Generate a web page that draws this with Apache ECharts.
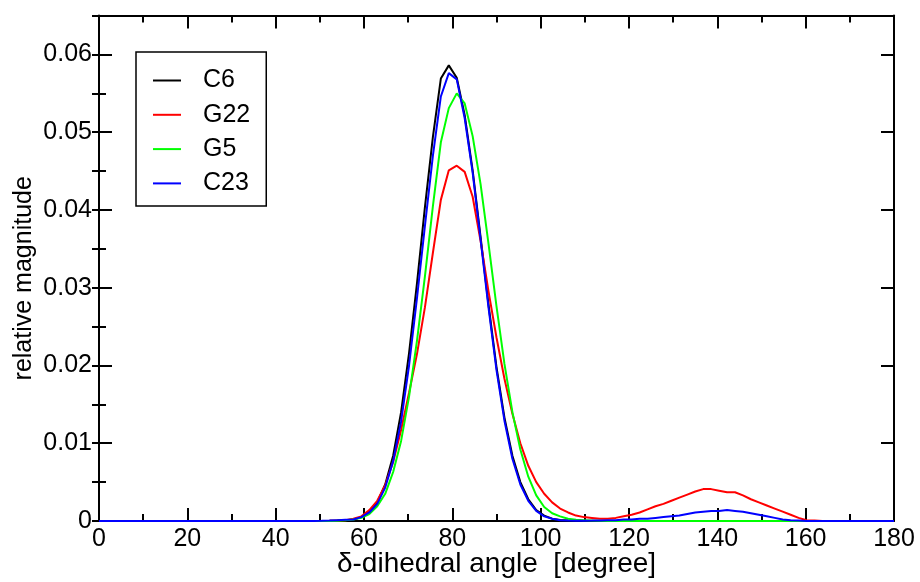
<!DOCTYPE html>
<html>
<head>
<meta charset="utf-8">
<script src="https://cdn.jsdelivr.net/npm/echarts@6/dist/echarts.min.js"></script>
<style>
html,body{margin:0;padding:0;background:#fff;}
#chart{width:920px;height:582px;}
</style>
</head>
<body>
<div id="chart"></div>
<script>
// x positions (degrees)
const angles = [
  0, 48.6, 50.4, 52.2, 54, 55.8, 57.6, 59.4, 61.2, 63,
  64.8, 66.6, 68.4, 70.2, 72, 73.8, 75.6, 77.4, 79.2, 81,
  82.8, 84.6, 86.4, 88.2, 90, 91.8, 93.6, 95.4, 97.2, 99,
  100.8, 102.6, 104.4, 106.2, 108, 109.8, 111.6, 113.4, 115.2, 117,
  118.8, 120.6, 122.4, 124.2, 126, 127.8, 129.6, 131.4, 133.2, 135,
  136.8, 138.6, 140.4, 142.2, 144, 145.8, 147.6, 149.4, 151.2, 153,
  154.8, 156.6, 158.4, 160.2, 162, 163.8, 165.6, 180
];
const c6 = [
  0, 0, 0, 0.00002, 0.00005, 0.0001, 0.0002, 0.0005, 0.0012, 0.0024,
  0.0047, 0.0084, 0.0140, 0.0216, 0.0306, 0.0404, 0.0494, 0.0569, 0.0586, 0.0570,
  0.0522, 0.0451, 0.0365, 0.0278, 0.0198, 0.0133, 0.0084, 0.0050, 0.0028, 0.0014,
  0.0007, 0.0003, 0.00014, 0.00006, 0.00002, 0, 0, 0, 0, 0,
  0, 0, 0, 0, 0, 0, 0, 0, 0, 0,
  0, 0, 0, 0, 0, 0, 0, 0, 0, 0,
  0, 0, 0, 0, 0, 0, 0, 0
];
const g22 = [
  0, 0, 0, 0.00002, 0.00005, 0.0001, 0.0003, 0.0006, 0.0014, 0.0026,
  0.0046, 0.0076, 0.0117, 0.0165, 0.0215, 0.0275, 0.0345, 0.0413, 0.0451, 0.0457,
  0.0449, 0.0417, 0.0360, 0.0295, 0.0236, 0.0183, 0.0138, 0.0100, 0.0071, 0.0050,
  0.0035, 0.0024, 0.0016, 0.0011, 0.0007, 0.0005, 0.0004, 0.0003, 0.0003, 0.0004,
  0.0006, 0.0008, 0.0011, 0.0015, 0.0019, 0.0022, 0.0026, 0.0030, 0.0034, 0.0038,
  0.0041, 0.0041, 0.0039, 0.0037, 0.0037, 0.0033, 0.0028, 0.0024, 0.0020, 0.0016,
  0.0012, 0.0008, 0.0004, 0.0001, 0.00005, 0, 0, 0
];
const g5 = [
  0, 0, 0, 0, 0.00003, 0.0001, 0.0002, 0.0004, 0.0009, 0.0019,
  0.0035, 0.0063, 0.0103, 0.0160, 0.0232, 0.0315, 0.0405, 0.0487, 0.0531, 0.0550,
  0.0537, 0.0495, 0.0433, 0.0356, 0.0276, 0.0202, 0.0140, 0.0092, 0.0057, 0.0033,
  0.0018, 0.0010, 0.0006, 0.0003, 0.00015, 0.0001, 0.00005, 0.00002, 0, 0,
  0, 0, 0, 0, 0, 0, 0, 0, 0, 0,
  0, 0, 0, 0, 0, 0, 0, 0, 0, 0,
  0, 0, 0, 0, 0, 0, 0, 0
];
const c23 = [
  0, 0, 0.00002, 0.00005, 0.0001, 0.00015, 0.0002, 0.0005, 0.0011, 0.0022,
  0.0043, 0.0077, 0.0128, 0.0200, 0.0287, 0.0380, 0.0470, 0.0546, 0.0576, 0.0568,
  0.0518, 0.0448, 0.0362, 0.0274, 0.0194, 0.0129, 0.0080, 0.0047, 0.0026, 0.0013,
  0.0006, 0.0003, 0.0001, 0.00005, 0.00003, 0.00003, 0.00005, 0.00008, 0.0001, 0.0001,
  0.0002, 0.0002, 0.0003, 0.0003, 0.0004, 0.0005, 0.0006, 0.0007, 0.0009, 0.0011,
  0.0012, 0.0013, 0.0013, 0.0014, 0.0013, 0.0012, 0.0010, 0.0008, 0.0006, 0.0004,
  0.0002, 0.0001, 0.00005, 0, 0, 0, 0, 0
];
const seriesNames = ['C6', 'G22', 'G5', 'C23'];
const seriesValues = [c6, g22, g5, c23];
const seriesColors = ['#000000', '#ff0000', '#00ff00', '#0000ff'];
const xTitle = 'δ-dihedral angle  [degree]';
const yTitle = 'relative magnitude';

const FONT = '"Liberation Sans", Arial, Helvetica, sans-serif';
const FS = 25;
const axisLine = { show: true, onZero: false, lineStyle: { color: '#000', width: 2 } };

function xAxisDef(pos, showLabel) {
  return {
    type: 'value', position: pos, min: 0, max: 180, interval: 20,
    axisLine: axisLine,
    axisTick: { show: true, inside: true, length: 13, lineStyle: { color: '#000', width: 2 } },
    minorTick: { show: true, splitNumber: 2, length: 7, lineStyle: { color: '#000', width: 2 } },
    splitLine: { show: false }, minorSplitLine: { show: false },
    axisLabel: { show: showLabel, color: '#000', fontSize: FS, fontFamily: FONT, margin: 6 },
    name: showLabel ? xTitle : '',
    nameLocation: 'middle', nameGap: 29, nameMoveOverlap: false,
    nameTextStyle: { color: '#000', fontSize: 28, fontFamily: FONT }
  };
}
function yAxisDef(pos, major, showLabel) {
  return {
    type: 'value', position: pos, min: 0, max: 0.065, interval: major ? 0.01 : 0.005,
    axisLine: major ? axisLine : { show: false },
    axisTick: { show: true, inside: true, length: major ? 13 : 7, lineStyle: { color: '#000', width: 2 } },
    splitLine: { show: false },
    axisLabel: {
      show: showLabel, color: '#000', fontSize: FS, fontFamily: FONT, margin: 7,
      showMaxLabel: false,
      formatter: function (v) {
        if (Math.abs(v) < 1e-12) return '0';
        if (v > 0.0625) return '';
        return v.toFixed(2);
      }
    },
    name: showLabel ? yTitle : '',
    nameLocation: 'middle', nameGap: 62, nameMoveOverlap: false,
    nameTextStyle: { color: '#000', fontSize: FS, fontFamily: FONT, padding: [0, 20, 0, 0] }
  };
}

const chart = echarts.init(document.getElementById('chart'), null, { renderer: 'canvas' });
chart.setOption({
  animation: false,
  backgroundColor: '#fff',
  grid: { left: 99, right: 26, top: 15.6, bottom: 61, containLabel: false, outerBoundsMode: 'none' },
  xAxis: [xAxisDef('bottom', true), xAxisDef('top', false)],
  yAxis: [yAxisDef('left', true, true), yAxisDef('right', true, false),
          yAxisDef('left', false, false), yAxisDef('right', false, false)],
  legend: {
    left: 136, top: 52, orient: 'vertical',
    data: seriesNames,
    backgroundColor: '#fff',
    borderColor: '#000', borderWidth: 1.5, borderRadius: 0,
    padding: [16, 16, 10, 16],
    itemWidth: 28, itemHeight: 26, itemGap: 9.3,
    itemStyle: { opacity: 0 },
    lineStyle: { width: 2 },
    textStyle: { color: '#000', fontSize: FS, fontFamily: FONT, padding: [0, 0, 0, 17] }
  },
  series: seriesNames.map(function (n, i) {
    return {
      name: n, type: 'line', xAxisIndex: 0, yAxisIndex: 0,
      symbol: 'none', showSymbol: false,
      lineStyle: { color: seriesColors[i], width: 2 },
      itemStyle: { color: seriesColors[i] },
      data: angles.map(function (a, k) { return [a, seriesValues[i][k]]; })
    };
  })
});
</script>
</body>
</html>
